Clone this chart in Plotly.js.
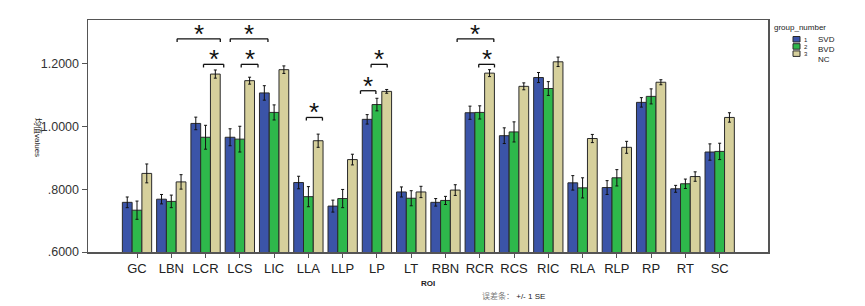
<!DOCTYPE html>
<html>
<head>
<meta charset="utf-8">
<script src="https://cdn.plot.ly/plotly-3.0.1.min.js"></script>
<style>html,body{margin:0;padding:0;background:#fff;}#chart{width:865px;height:306px;}</style>
</head>
<body>
<div id="chart"></div>
<script>
var categories = ["GC","LBN","LCR","LCS","LIC","LLA","LLP","LP","LT","RBN","RCR","RCS","RIC","RLA","RLP","RP","RT","SC"];
var groupCodes = ["1","2","3"];
var groupNames = ["SVD","BVD","NC"];
var svdMean = [0.758,0.768,1.009,0.965,1.106,0.821,0.746,1.022,0.791,0.758,1.043,0.970,1.155,0.820,0.805,1.076,0.801,0.918];
var svdSE   = [0.017,0.015,0.020,0.027,0.023,0.020,0.019,0.015,0.016,0.012,0.021,0.025,0.016,0.023,0.022,0.015,0.011,0.026];
var bvdMean = [0.733,0.761,0.965,0.959,1.044,0.776,0.770,1.069,0.771,0.764,1.044,0.982,1.120,0.804,0.836,1.095,0.817,0.920];
var bvdSE   = [0.029,0.020,0.038,0.041,0.024,0.032,0.029,0.020,0.024,0.013,0.021,0.032,0.022,0.032,0.026,0.024,0.015,0.026];
var ncMean  = [0.850,0.823,1.166,1.145,1.180,0.954,0.894,1.111,0.791,0.797,1.169,1.127,1.205,0.961,0.933,1.140,0.840,1.028];
var ncSE    = [0.030,0.023,0.013,0.011,0.012,0.021,0.017,0.006,0.018,0.017,0.011,0.011,0.015,0.013,0.019,0.008,0.015,0.015];
var yTickVals = [0.6,0.8,1.0,1.2];
var yTickText = [".6000",".8000","1.0000","1.2000"];
// significance brackets: [x start, x end, y level] in category-index / value units
var sigX0 = [1.17,1.94,2.72,3.04,4.94,6.52,6.83,9.34,9.97];
var sigX1 = [2.43,2.53,3.82,3.53,5.41,6.97,7.30,10.41,10.43];
var sigY  = [1.278,1.197,1.278,1.197,1.028,1.113,1.197,1.278,1.197];

var colors = ["#3b54a8","#2eb84b","#d6d09c"];
var means = [svdMean,bvdMean,ncMean];
var ses = [svdSE,bvdSE,ncSE];
var traces = [];
for (var g=0; g<3; g++) {
  traces.push({
    type:"bar", x:categories, y:means[g], name:groupNames[g],
    marker:{color:colors[g], line:{color:"#2a2a2a", width:1}},
    error_y:{type:"data", array:ses[g], visible:true, color:"#111", thickness:1, width:1.5},
    hoverinfo:"skip"
  });
}
var M = {l:88, r:97, t:20, b:54}, W = 865, H = 306;
var pw = W - M.l - M.r, ph = H - M.t - M.b;
function px2x(px){ return (px - M.l) / pw; }
function py2y(py){ return (H - M.b - py) / ph; }

var shapes = [];
var annotations = [];
var tick = 0.010;
for (var i=0; i<sigX0.length; i++) {
  var ln = {color:"#111", width:1.3};
  shapes.push({type:"line", xref:"x", yref:"y", x0:sigX0[i], x1:sigX1[i], y0:sigY[i], y1:sigY[i], line:ln});
  shapes.push({type:"line", xref:"x", yref:"y", x0:sigX0[i], x1:sigX0[i], y0:sigY[i]-tick, y1:sigY[i], line:ln});
  shapes.push({type:"line", xref:"x", yref:"y", x0:sigX1[i], x1:sigX1[i], y0:sigY[i]-tick, y1:sigY[i], line:ln});
  annotations.push({xref:"x", yref:"y", x:(sigX0[i]+sigX1[i])/2, y:sigY[i], text:"*", showarrow:false,
    yanchor:"bottom", yshift:-12, font:{family:"Liberation Sans, Arial", size:26, color:"#111"}});
}
// legend (drawn manually to match compact SPSS legend)
annotations.push({xref:"paper", yref:"paper", x:px2x(772), y:py2y(28), xanchor:"left", yanchor:"middle",
  text:"group_number", showarrow:false, font:{family:"Liberation Sans, Arial", size:8, color:"#222"}});
for (var g=0; g<3; g++) {
  var swTop = 36.5 + g*7.2;
  shapes.push({type:"rect", xref:"paper", yref:"paper", x0:px2x(793), x1:px2x(800), y0:py2y(swTop), y1:py2y(swTop+5.5),
    fillcolor:colors[g], line:{color:"#2a2a2a", width:1}});
  annotations.push({xref:"paper", yref:"paper", x:px2x(801.5), y:py2y(swTop+3), xanchor:"left", yanchor:"middle",
    text:groupCodes[g], showarrow:false, font:{family:"Liberation Sans, Arial", size:6, color:"#222"}});
  annotations.push({xref:"paper", yref:"paper", x:px2x(816), y:py2y(40 + g*9.7), xanchor:"left", yanchor:"middle",
    text:groupNames[g], showarrow:false, font:{family:"Liberation Sans, Arial", size:8, color:"#222"}});
}
annotations.push({xref:"paper", yref:"paper", x:px2x(31), y:py2y(137), text:"均值values", textangle:90, showarrow:false,
  font:{family:"Liberation Sans, Noto Sans CJK SC", size:8, color:"#222"}});
annotations.push({xref:"paper", yref:"paper", x:px2x(480), y:py2y(296), xanchor:"left", yanchor:"middle", showarrow:false,
  text:'<span style="color:#777">误差条：</span> +/- 1 SE', font:{family:"Liberation Sans, Noto Sans CJK SC", size:8, color:"#222"}});

var layout = {
  width:W, height:H,
  margin:M,
  paper_bgcolor:"#fff", plot_bgcolor:"#fff",
  barmode:"group", bargap:0.145, bargroupgap:0,
  font:{family:"Liberation Sans, Arial", color:"#222"},
  showlegend:false,
  xaxis:{type:"category", range:[-1.43,18.41], showgrid:false, zeroline:false,
    showline:true, linecolor:"#555", linewidth:1.5, mirror:true,
    ticks:"outside", ticklen:4, tickcolor:"#555",
    tickfont:{size:13, color:"#222"},
    title:{text:"<b>ROI</b>", font:{size:8, color:"#222"}, standoff:5}},
  yaxis:{range:[0.6,1.338], showgrid:false, zeroline:false,
    showline:true, linecolor:"#555", linewidth:1.5, mirror:true,
    ticks:"outside", ticklen:5, tickcolor:"#555",
    tickvals:yTickVals, ticktext:yTickText, tickfont:{size:12.5, color:"#333"}},
  shapes:shapes, annotations:annotations
};
Plotly.newPlot("chart", traces, layout, {displayModeBar:false, staticPlot:true});
</script>
</body>
</html>
